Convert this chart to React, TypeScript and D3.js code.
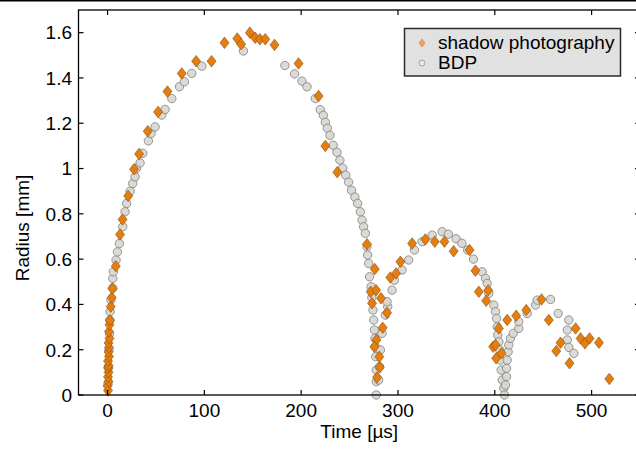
import * as d3 from "d3"

// shadow photography (orange diamonds): time [µs], radius [mm]
const shadowT = [
  0.5, 0, 1, 0.5, 1, 0.5, 1, 0.5, 1.5, 1, 1.5, 1, 2, 1.5, 2, 2.5, 3.3, 4.3, 5, 8.5,
  12.9, 15.5, 21.3, 27.4, 32.6, 41.5, 52.2, 61.9, 76.7, 91.5, 107.4, 120.8, 134, 138, 147, 152.5,
  157.4, 162.9, 172.5, 197.3, 218, 225, 237.3, 268, 276, 271.8, 277.4, 273.2, 282.5, 288.7,
  284.2, 277.7, 275.6, 280.8, 281.1, 278.4, 292.1, 298, 302.5, 314.6, 328.3, 338, 348, 357.5,
  374, 380, 383.5, 393.2, 391.1, 404.2, 398.3, 400.7, 406.9, 401.4, 412.8, 422.1, 432.5, 448.3,
  455.8, 467.9, 463.5, 483.5, 477.2, 488.6, 493.1, 497.9, 507.6, 518.3,
]
const shadowR = [
  0.02, 0.04, 0.06, 0.08, 0.1, 0.12, 0.13, 0.15, 0.17, 0.19, 0.21, 0.23, 0.25, 0.28, 0.31, 0.33, 0.39, 0.43, 0.47, 0.569,
  0.709, 0.775, 0.879, 0.997, 1.064, 1.165, 1.25, 1.34, 1.42, 1.474, 1.474, 1.555, 1.574, 1.549, 1.6, 1.577,
  1.571, 1.571, 1.546, 1.464, 1.32, 1.1, 0.984, 0.666, 0.556, 0.456, 0.463, 0.405, 0.427, 0.363,
  0.297, 0.243, 0.213, 0.169, 0.122, 0.078, 0.519, 0.537, 0.588, 0.669, 0.687, 0.677, 0.677, 0.635,
  0.64, 0.549, 0.456, 0.463, 0.416, 0.294, 0.213, 0.221, 0.184, 0.162, 0.331, 0.35, 0.375, 0.422,
  0.331, 0.231, 0.194, 0.294, 0.14, 0.25, 0.228, 0.25, 0.231, 0.071,
]

// BDP (grey circles)
const bdpT = [
  0.5, 1, 1.5, 2, 2.3, 2.6, 3.5, 5.4, 5.4, 6, 8.8, 10.2, 12.2, 15.7, 18.1, 19.8, 23.3, 26, 28.4, 29.8,
  33.6, 36.4, 42.2, 45, 49.1, 56, 59.5, 66.4, 74.3, 79.4, 87, 97.4, 140.4, 183.2, 193.2, 200.8, 206, 214.6,
  219.7, 222.9, 225, 227, 229.7, 233, 237, 240, 243, 246, 249, 252, 255.5, 258.3, 261.1, 262.9, 264.5,
  266.3, 268, 268.7, 269.7, 270.7, 272.2, 273, 274.2, 274.9, 275.6, 276.2, 276.6, 277, 277.6, 277.6,
  277.6, 280, 281, 281.8, 283.5, 287, 289.4, 288.7, 293.9, 296.3, 304.2, 311, 317, 325, 335.3, 345.6,
  352, 360, 366, 372, 378, 387, 390.4, 392.1, 393.8, 399, 400.7, 401.8, 402.5, 403.1, 404.2, 405.2,
  405.9, 406.6, 407.7, 409.3, 410, 411, 412.1, 412.1, 412.8, 413.8, 414.5, 416.2, 419, 424.8, 424.8,
  433.5, 442.1, 443.8, 457.6, 465.5, 476.5, 474.9, 474.9, 476.5, 481.7,
]
const bdpR = [
  0.05, 0.12, 0.2, 0.27, 0.33, 0.368, 0.42, 0.472, 0.515, 0.544, 0.596, 0.632, 0.669, 0.743, 0.809, 0.846, 0.9, 0.934, 0.963, 1.0,
  1.025, 1.067, 1.122, 1.155, 1.184, 1.236, 1.261, 1.309, 1.361, 1.383, 1.42, 1.452, 1.519, 1.455, 1.418, 1.386, 1.361, 1.309,
  1.26, 1.235, 1.204, 1.178, 1.147, 1.103, 1.072, 1.037, 1.002, 0.971, 0.94, 0.904, 0.874, 0.846, 0.809, 0.772, 0.743,
  0.714, 0.654, 0.618, 0.581, 0.522, 0.478, 0.43, 0.375, 0.331, 0.287, 0.25, 0.213, 0.169, 0.11, 0.059,
  0.0, 0.066, 0.125, 0.199, 0.272, 0.353, 0.39, 0.412, 0.463, 0.507, 0.552, 0.596, 0.64, 0.677, 0.706, 0.721,
  0.71, 0.69, 0.67, 0.64, 0.6, 0.544, 0.515, 0.493, 0.449, 0.397, 0.368, 0.338, 0.301, 0.265, 0.235, 0.199,
  0.154, 0.11, 0.066, 0.03, 0.0, 0.044, 0.081, 0.118, 0.154, 0.191, 0.221, 0.25, 0.272, 0.294, 0.324,
  0.36, 0.397, 0.419, 0.422, 0.36, 0.331, 0.287, 0.243, 0.21, 0.184,
]

const xTicks = [0, 100, 200, 300, 400, 500]
const yTicks = [0, 0.2, 0.4, 0.6, 0.8, 1, 1.2, 1.4, 1.6]
const legendLabels = ["shadow photography", "BDP"]

const W = 636
const H = 453
const FONT = "'Liberation Sans', Arial, Helvetica, sans-serif"

const ORANGE = "#e57e10"
const ORANGE_EDGE = "#8a4b08"
const GREY = "#d8d6d1"
const GREY_EDGE = "#7d7d7a"

const diamond = (cx: number, cy: number, w: number, h: number) =>
  `M${cx},${cy - h / 2}L${cx + w / 2},${cy}L${cx},${cy + h / 2}L${cx - w / 2},${cy}Z`

export default function App() {
  const x = d3.scaleLinear().domain([-30, 550]).range([78.5, 640])
  const y = d3.scaleLinear().domain([0, 1.7]).range([395, 10])
  const [x0, x1] = x.range()
  const [y0, y1] = y.range()
  const tick = 5

  return (
    <svg
      width={W}
      height={H}
      style={{ position: "absolute", left: 0, top: 0, background: "#fff" }}
      fontFamily={FONT}
    >
      <line x1={0} x2={W} y1={0.75} y2={0.75} stroke="#000" strokeWidth={1.5} />

      {/* BDP */}
      {bdpT.map((t, i) => (
        <circle
          key={"b" + i}
          cx={x(t)}
          cy={y(bdpR[i])}
          r={4.2}
          fill={GREY}
          fillOpacity={0.9}
          stroke={GREY_EDGE}
          strokeWidth={0.8}
        />
      ))}

      {/* shadow photography */}
      {shadowT.map((t, i) => (
        <path
          key={"s" + i}
          d={diamond(x(t), y(shadowR[i]), 9, 11.5)}
          fill={ORANGE}
          stroke={ORANGE_EDGE}
          strokeWidth={0.6}
        />
      ))}

      {/* axes box */}
      <rect x={x0} y={y1} width={x1 - x0} height={y0 - y1} fill="none" stroke="#000" strokeWidth={1.3} />

      {xTicks.map((t) => (
        <g key={"xt" + t}>
          <line x1={x(t)} x2={x(t)} y1={y0} y2={y0 - tick} stroke="#000" strokeWidth={1.2} />
          <line x1={x(t)} x2={x(t)} y1={y1} y2={y1 + tick} stroke="#000" strokeWidth={1.2} />
          <text x={x(t)} y={417} textAnchor="middle" fontSize={19} fill="#000">
            {t}
          </text>
        </g>
      ))}

      {yTicks.map((v) => (
        <g key={"yt" + v}>
          <line x1={x0} x2={x0 + tick} y1={y(v)} y2={y(v)} stroke="#000" strokeWidth={1.2} />
          <line x1={x1} x2={x1 - tick} y1={y(v)} y2={y(v)} stroke="#000" strokeWidth={1.2} />
          <text x={72} y={y(v) + 6.8} textAnchor="end" fontSize={19} fill="#000">
            {v === 0 || v === 1 ? String(v) : v.toFixed(1)}
          </text>
        </g>
      ))}

      <text x={(x0 + x1) / 2} y={438} textAnchor="middle" fontSize={19} fill="#000">
        Time [µs]
      </text>
      <text transform="translate(29,228) rotate(-90)" textAnchor="middle" fontSize={19} fill="#000">
        Radius [mm]
      </text>

      {/* legend */}
      <g>
        <rect x={404.5} y={28.5} width={216} height={47.5} fill="#e1e1e1" stroke="#2b2b2b" strokeWidth={1.5} />
        <path d={diamond(422, 43, 6, 8)} fill="#f0a35a" stroke="#c77a2e" strokeWidth={0.5} />
        <circle cx={422} cy={63} r={3} fill="#e8e8e8" stroke="#8a8a8a" strokeWidth={0.7} />
        <text x={438} y={49} fontSize={19} fill="#000">
          {legendLabels[0]}
        </text>
        <text x={438} y={69} fontSize={19} fill="#000">
          {legendLabels[1]}
        </text>
      </g>
    </svg>
  )
}
